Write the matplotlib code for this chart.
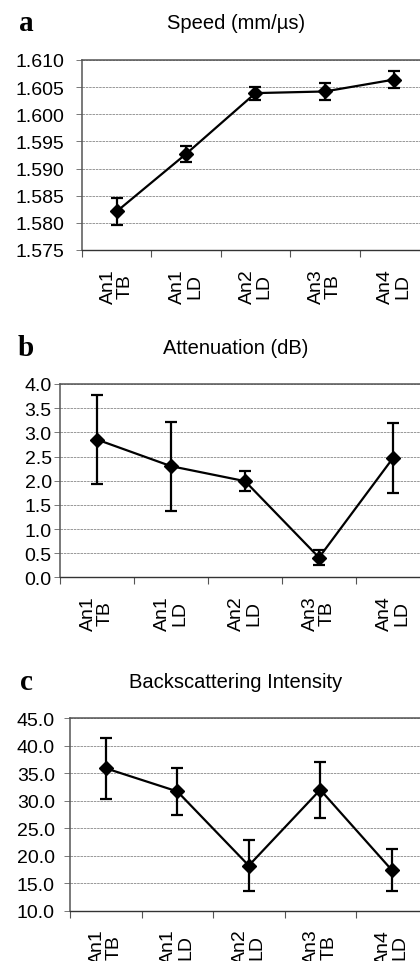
import matplotlib
matplotlib.use("Agg")
import matplotlib.pyplot as plt
import numpy as np

# data
categories = ["An1\nTB", "An1\nLD", "An2\nLD", "An3\nTB", "An4\nLD"]

speed     = [1.5821, 1.5927, 1.6039, 1.6042, 1.6064]
speed_err = [0.0025, 0.0015, 0.0012, 0.0016, 0.0015]

atten     = [2.85, 2.30, 1.99, 0.41, 2.47]
atten_err = [0.92, 0.92, 0.20, 0.16, 0.72]

backsc     = [35.9, 31.7, 18.2, 32.0, 17.4]
backsc_err = [5.5, 4.3, 4.7, 5.1, 3.9]

panels = [
    dict(letter="a", title="Speed (mm/\u00b5s)", y=speed, err=speed_err,
         ylim=(1.575, 1.610), step=0.005, fmt="{:.3f}", ypad=9,
         rect=(0.1952, 0.7391, 0.8262, 0.1975), ty=0.976),
    dict(letter="b", title="Attenuation (dB)", y=atten, err=atten_err,
         ylim=(0.0, 4.0), step=0.5, fmt="{:.1f}", ypad=2,
         rect=(0.1429, 0.3988, 0.8810, 0.2010), ty=0.638),
    dict(letter="c", title="Backscattering Intensity", y=backsc, err=backsc_err,
         ylim=(10.0, 45.0), step=5.0, fmt="{:.1f}", ypad=7,
         rect=(0.1667, 0.0523, 0.8512, 0.2000), ty=0.291),
]

fig = plt.figure(figsize=(4.2, 9.62), dpi=100)
fig.patch.set_facecolor("white")

x = np.arange(len(categories))

for p in panels:
    ax = fig.add_axes(p["rect"])
    ax.errorbar(x, p["y"], yerr=p["err"], color="black", lw=1.6,
                marker="D", markersize=7, capsize=4.5, capthick=1.6,
                elinewidth=1.6, zorder=3)
    ax.set_xlim(-0.5, 4.5)
    ax.set_ylim(*p["ylim"])
    yt = np.arange(p["ylim"][0], p["ylim"][1] + p["step"] / 2, p["step"])
    ax.set_yticks(yt)
    ax.set_yticklabels([p["fmt"].format(v) for v in yt],
                       fontsize=14, family="Liberation Sans")
    ax.tick_params(axis="y", length=4, width=0.7, color="#777777",
                   pad=p["ypad"])
    ax.yaxis.grid(True, color="#888888", lw=0.6, ls=(0, (3, 1)))
    ax.set_axisbelow(True)

    ax.set_xticks(x)
    ax.set_xticklabels(categories, rotation=90, fontsize=14,
                       family="Liberation Sans", linespacing=1.0,
                       va="top", ha="center")
    ax.tick_params(axis="x", which="major", length=0, pad=13)
    ax.set_xticks(np.arange(-0.5, 4.6, 1.0), minor=True)
    ax.tick_params(axis="x", which="minor", length=5, width=0.8,
                   color="#555555", direction="out")

    for side in ["top", "right", "left"]:
        ax.spines[side].set_color("#555555")
        ax.spines[side].set_linestyle((0, (1, 1)))
        ax.spines[side].set_linewidth(1.1)
    ax.spines["bottom"].set_color("#333333")
    ax.spines["bottom"].set_linewidth(1.0)

    fig.text(0.562, p["ty"], p["title"], ha="center", va="center",
             fontsize=14.5, family="Liberation Sans")
    fig.text(0.062, p["ty"], p["letter"], ha="center", va="center",
             fontsize=21, fontweight="bold", family="Liberation Serif")

fig.savefig("out.png", dpi=100, facecolor="white")
